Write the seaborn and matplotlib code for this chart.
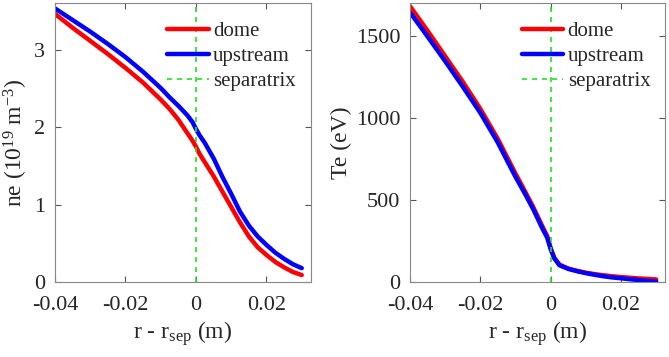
import numpy as np
import pandas as pd
import matplotlib
matplotlib.use("Agg")
import matplotlib.pyplot as plt
import seaborn as sns
from matplotlib.ticker import FuncFormatter

# r - r_sep (m)
r = [-0.04, -0.035, -0.03, -0.025, -0.02, -0.015, -0.01, -0.0075, -0.005,
     -0.0025, -0.001, 0.0, 0.001, 0.0025, 0.005, 0.0075, 0.01, 0.0125,
     0.015, 0.0175, 0.02, 0.0225, 0.025, 0.0275, 0.03]

# ne (1e19 m^-3)
ne_dome = [3.47, 3.29, 3.12, 2.95, 2.77, 2.58, 2.36, 2.24, 2.10,
           1.93, 1.83, 1.75, 1.66, 1.55, 1.37, 1.17, 0.97, 0.77,
           0.59, 0.45, 0.35, 0.26, 0.19, 0.13, 0.09]
ne_upstream = [3.54, 3.39, 3.24, 3.08, 2.91, 2.72, 2.51, 2.39, 2.28,
               2.16, 2.07, 1.98, 1.90, 1.80, 1.60, 1.36, 1.14, 0.91,
               0.73, 0.59, 0.48, 0.38, 0.30, 0.23, 0.18]

# Te (eV)
te_dome = [1680, 1530, 1375, 1220, 1055, 870, 660, 560, 458,
           345, 280, 205, 148, 106, 82, 68, 57, 48,
           41, 35, 30, 26, 22, 19, 16]
te_upstream = [1642, 1495, 1345, 1190, 1030, 848, 640, 545, 445,
               332, 270, 200, 145, 102, 80, 66, 54, 44,
               35, 28, 23, 17, 12, 7, 3]

sns.set_style("ticks")
plt.rcParams['font.family'] = ['Liberation Serif', 'DejaVu Serif']
plt.rcParams['mathtext.fontset'] = 'custom'
plt.rcParams['mathtext.rm'] = 'Liberation Serif'
plt.rcParams['mathtext.it'] = 'Liberation Serif:italic'

df = pd.DataFrame({
    'r': r * 2,
    'ne': ne_dome + ne_upstream,
    'Te': te_dome + te_upstream,
    'case': ['dome'] * len(r) + ['upstream'] * len(r),
})

fig = plt.figure(figsize=(6.69, 3.57), dpi=100)
ax1 = fig.add_axes([0.0822, 0.210, 0.382, 0.7815])
ax2 = fig.add_axes([0.613, 0.210, 0.381, 0.7815])

pal = {'dome': '#ff0000', 'upstream': '#0000ff'}

for ax, col, ylab, ylim, yt in [
        (ax1, 'ne', 'ne (10$^{19}$ m$^{-3}$)', (0, 3.61), [0, 1, 2, 3]),
        (ax2, 'Te', 'Te (eV)', (0, 1700), [0, 500, 1000, 1500])]:
    sns.lineplot(data=df, x='r', y=col, hue='case', palette=pal, lw=3.2,
                 ax=ax, legend=True, solid_joinstyle='round')
    ax.axvline(0, color='#22e022', ls=(0, (3, 3)), lw=1.2, label='separatrix')
    ax.set_xlim(-0.04, 0.0325)
    ax.set_ylim(*ylim)
    ax.set_xticks([-0.04, -0.02, 0, 0.02])
    ax.set_yticks(yt)
    ax.xaxis.set_major_formatter(FuncFormatter(lambda v, _: f"{v:g}"))
    ax.tick_params(direction='in', top=True, right=True, labelsize=16,
                   length=4, color='#555555')
    ax.tick_params(axis='x', pad=10)
    ax.tick_params(axis='y', pad=7)
    for s in ax.spines.values():
        s.set_color('#888888')
        s.set_linewidth(0.8)
    ax.set_xlabel('r - r$_{\\mathrm{sep}}$ (m)', fontsize=17, labelpad=3)
    ax.set_ylabel(ylab, fontsize=17, labelpad=3)
    h, l = ax.get_legend_handles_labels()
    ax.legend(h, l, loc='upper right', bbox_to_anchor=(1.0, 0.985),
              frameon=False, fontsize=15, handlelength=2.0,
              handletextpad=0.2, labelspacing=0.25, borderaxespad=0.3)

fig.savefig('out.png', dpi=100)
